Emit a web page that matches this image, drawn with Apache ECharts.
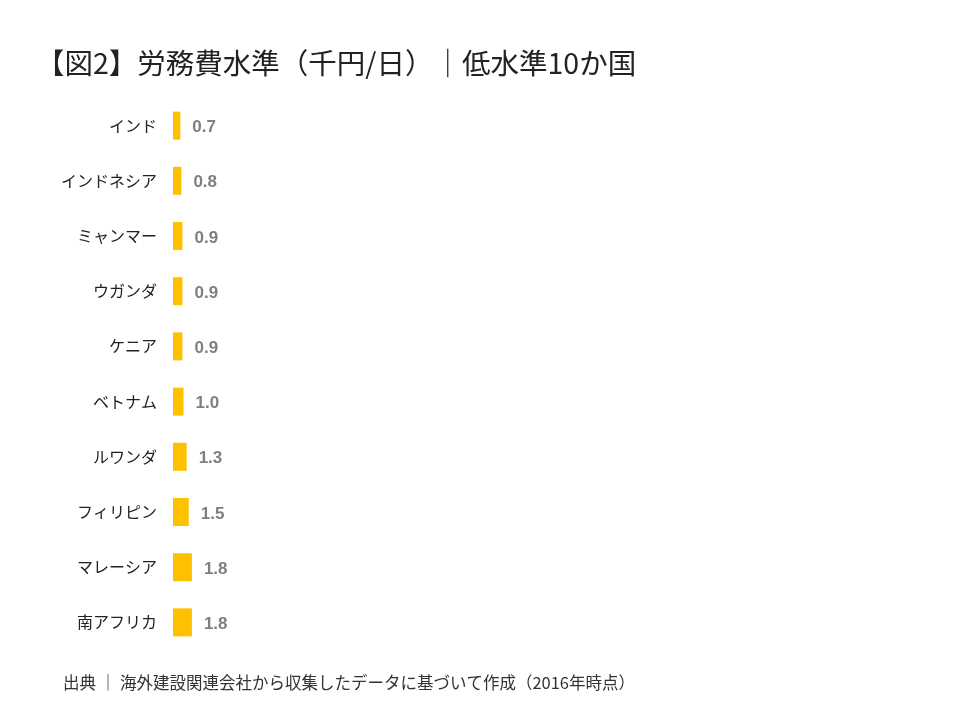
<!DOCTYPE html>
<html>
<head>
    <meta charset="utf-8">
    <title>労務費水準</title>
    <script src="https://cdn.jsdelivr.net/npm/echarts@6/dist/echarts.min.js"></script>
    <style>
        html, body { margin: 0; padding: 0; background: #fff; }
    </style>
</head>
<body>
<div id="main" style="width: 960px;height:720px;"></div>

<script type="text/javascript">
    // 国名と労務費（千円/日）
    var countries = ['インド', 'インドネシア', 'ミャンマー', 'ウガンダ', 'ケニア', 'ベトナム', 'ルワンダ', 'フィリピン', 'マレーシア', '南アフリカ'];
    var costs = [0.7, 0.8, 0.9, 0.9, 0.9, 1.0, 1.3, 1.5, 1.8, 1.8];

    var titleText = '【図2】労務費水準（千円/日）｜低水準10か国';
    var sourceText = '出典 ｜ 海外建設関連会社から収集したデータに基づいて作成（2016年時点）';

    var jpFont = '"Noto Sans CJK JP", "Noto Sans", sans-serif';

    var myChart = echarts.init(document.getElementById('main'));

    var option = {
        backgroundColor: '#fff',
        animation: false,
        title: [{
            text: titleText,
            left: 31,
            top: 44,
            textStyle: {
                fontFamily: jpFont,
                fontSize: 28.5,
                fontWeight: 'normal',
                color: '#222'
            }
        }, {
            text: sourceText,
            left: 58,
            top: 669,
            textStyle: {
                fontFamily: jpFont,
                fontSize: 16.5,
                fontWeight: 'normal',
                color: '#333'
            }
        }],
        grid: {
            left: 173,
            top: 98,
            width: 210,
            height: 552
        },
        xAxis: {
            type: 'value',
            min: 0,
            max: 20,
            show: false
        },
        yAxis: {
            type: 'category',
            data: countries,
            inverse: true,
            axisLine: { show: false },
            axisTick: { show: false },
            axisLabel: {
                margin: 16,
                fontFamily: jpFont,
                fontSize: 16,
                color: '#222'
            }
        },
        series: [{
            type: 'bar',
            data: costs,
            barWidth: 28,
            itemStyle: { color: '#FFC000' },
            label: {
                show: true,
                position: 'right',
                distance: 12,
                offset: [0, 2],
                formatter: function (p) { return p.value.toFixed(1); },
                fontFamily: 'Arial, "Liberation Sans", sans-serif',
                fontSize: 17,
                fontWeight: 'bold',
                color: '#7f7f7f'
            }
        }]
    };

    myChart.setOption(option);
</script>
</body>
</html>
